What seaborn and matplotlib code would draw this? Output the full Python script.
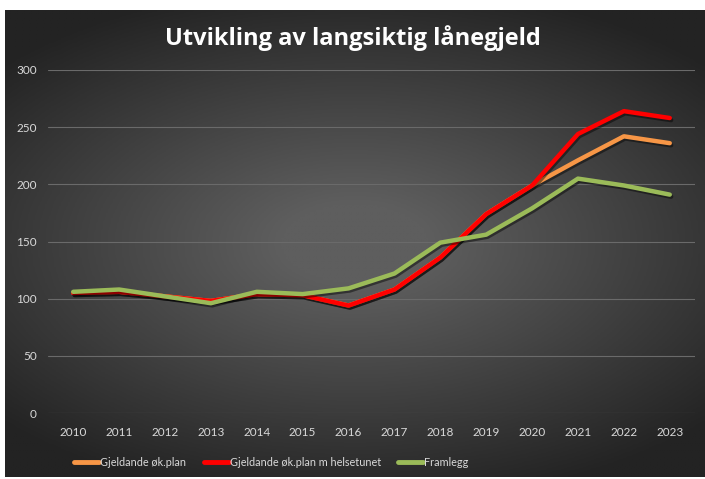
import numpy as np
import pandas as pd
import seaborn as sns
import matplotlib.pyplot as plt
import matplotlib.patheffects as pe

years = list(range(2010, 2024))
gjeldande = [105, 106, 102, 98, 104, 103, 94, 108, 136, 174, 199, 221, 242, 236]
helsetunet = [105, 106, 102, 98, 104, 103, 94, 108, 136, 174, 199, 244, 264, 258]
framlegg = [106, 108, 102, 96, 106, 104, 109, 122, 149, 156, 179, 205, 199, 191]
series_names = ["Gjeldande øk.plan", "Gjeldande øk.plan m helsetunet", "Framlegg"]
colors = ["#F79646", "#FF0000", "#9BBB59"]

df = pd.DataFrame({
    "year": years * 3,
    "value": gjeldande + helsetunet + framlegg,
    "serie": [series_names[0]] * 14 + [series_names[1]] * 14 + [series_names[2]] * 14,
})

sns.set_style("white")
plt.rcParams['font.family'] = ['Lato', 'DejaVu Sans']

fig = plt.figure(figsize=(7.05, 4.79), dpi=100, facecolor="white")

# dark gradient background panel
bg = fig.add_axes([5 / 705, 2 / 479, 700 / 705, 467 / 479])
xx, yy = np.meshgrid(np.linspace(-1, 1, 300), np.linspace(-1, 1, 200))
r = np.sqrt((xx * 0.9) ** 2 + (yy * 1.1) ** 2)
grad = np.clip(1 - r / 1.25, 0, 1)
bg.imshow(grad, cmap=sns.blend_palette(["#232323", "#5e5e5e"], as_cmap=True),
          aspect="auto", extent=[0, 1, 0, 1], vmin=0, vmax=0.85)
bg.axis("off")

ax = fig.add_axes([48 / 705, (479 - 413) / 479, (695 - 48) / 705, (413 - 70) / 479])
ax.patch.set_alpha(0)

shadow = [pe.SimpleLineShadow(offset=(1, -1.5), shadow_color="black", alpha=0.45), pe.Normal()]
sns.lineplot(data=df, x="year", y="value", hue="serie", palette=colors,
             linewidth=3.2, ax=ax, legend=False)
for line in ax.get_lines():
    line.set_path_effects(shadow)
    line.set_solid_capstyle("round")

ax.set_ylim(0, 300)
ax.set_xlim(2009.45, 2023.55)
ax.set_yticks(range(0, 301, 50))
ax.set_xticks(years)
ax.set_xlabel("")
ax.set_ylabel("")
ax.yaxis.grid(True, color="#6a6a6a", linewidth=0.8)
ax.set_axisbelow(True)
for s in ax.spines.values():
    s.set_visible(False)
ax.tick_params(colors="#d9d9d9", labelsize=8.5, length=0)
ax.tick_params(axis="y", pad=8)
ax.tick_params(axis="x", pad=10)

fig.text(0.5, 0.92, "Utvikling av langsiktig lånegjeld", ha="center", va="center",
         color="white", fontsize=17, fontweight="bold", family=["Open Sans", "DejaVu Sans"])

handles = [plt.Line2D([0], [0], color=c, linewidth=3.5) for c in colors]
fig.legend(handles, series_names, loc="center", bbox_to_anchor=(0.385, 0.034), ncol=3,
           frameon=False, labelcolor="#d9d9d9", fontsize=7.8, handlelength=2.3,
           handletextpad=0.1, columnspacing=1.6)

fig.savefig("out.png", dpi=100, facecolor="white")
